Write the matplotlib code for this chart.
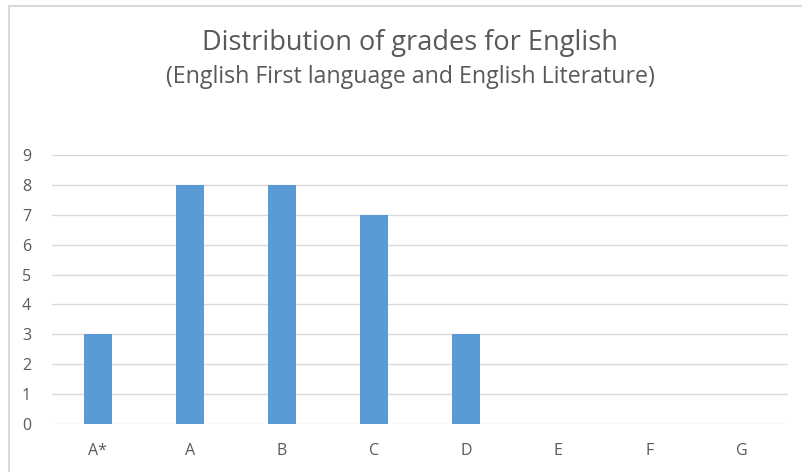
import matplotlib
matplotlib.use("Agg")
import matplotlib.pyplot as plt
from matplotlib.lines import Line2D

categories = ["A*", "A", "B", "C", "D", "E", "F", "G"]
values = [3, 8, 8, 7, 3, 0, 0, 0]
yticks = list(range(0, 10))

W, H = 803, 472
fig = plt.figure(figsize=(W / 100, H / 100), dpi=100)
plt.rcParams['font.family'] = ['Open Sans', 'DejaVu Sans']

ax = fig.add_axes([52 / W, 1 - 424 / H, (788 - 52) / W, (424 - 155) / H])
x = list(range(len(categories)))
ax.bar(x, values, width=0.315, color="#5B9BD5", zorder=3)
ax.set_xlim(-0.5, len(categories) - 0.5)
ax.set_ylim(0, 9)
ax.set_yticks(yticks)
ax.set_xticks(x)
ax.set_xticklabels(categories)
ax.grid(axis="y", color="#d9d9d9", linewidth=1.0, zorder=0)
for s in ax.spines.values():
    s.set_visible(False)
ax.tick_params(axis="both", length=0, colors="#595959", labelsize=11.5)
ax.tick_params(axis="y", pad=15)
ax.tick_params(axis="x", pad=14)

fig.text(410 / W, 1 - 43 / H, "Distribution of grades for English", ha="center", va="center",
         fontsize=19.5, color="#595959")
fig.text(410 / W, 1 - 77 / H, "(English First language and English Literature)", ha="center", va="center",
         fontsize=16.7, color="#595959")

# chart border (left and top visible)
fig.add_artist(Line2D([8.5 / W, 8.5 / W], [0, 1 - 5.5 / H], transform=fig.transFigure, color="#d9d9d9", linewidth=1.5))
fig.add_artist(Line2D([8.5 / W, 1], [1 - 5.5 / H, 1 - 5.5 / H], transform=fig.transFigure, color="#d9d9d9", linewidth=1.5))

fig.savefig("out.png", dpi=100)
